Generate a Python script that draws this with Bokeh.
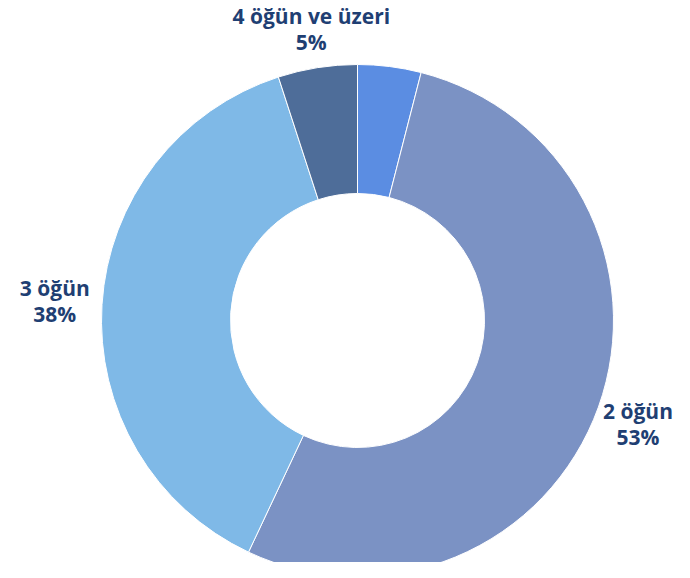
import math
from bokeh.plotting import figure
from bokeh.models import Range1d, ColumnDataSource
from bokeh.core.properties import value
from bokeh.embed import file_html
from bokeh.resources import INLINE

categories = ["1 öğün", "2 öğün", "3 öğün", "4 öğün ve üzeri"]
values = [4, 53, 38, 5]
show_label = [False, True, True, True]
colors = ["#5B8DE2", "#7B92C4", "#7FB9E7", "#4E6D99"]

W, H = 674, 562
p = figure(width=W, height=H, output_backend="svg", toolbar_location=None,
           x_range=Range1d(0, W), y_range=Range1d(-H, 0),
           min_border=0, outline_line_color=None)
p.axis.visible = False
p.grid.visible = False
p.background_fill_color = "white"
p.border_fill_color = "white"

cx, cy = 357, -320
r_out, r_in = 256, 127
char_w, half_h, gap = 11.5, 14, 12
total = sum(values)
starts, ends = [], []
lx, ly, name_txt, pct_txt = [], [], [], []
acc = 0.0
for c, v, s in zip(categories, values, show_label):
    a0 = math.pi / 2 - 2 * math.pi * acc / total
    acc += v
    a1 = math.pi / 2 - 2 * math.pi * acc / total
    starts.append(a0)
    ends.append(a1)
    if s:
        mid = (a0 + a1) / 2
        hw = len(c) * char_w / 2
        ext = abs(math.cos(mid)) * hw + abs(math.sin(mid)) * half_h
        rr = r_out + gap + ext
        x = cx + rr * math.cos(mid)
        x = min(max(x, hw + 2), W - hw - 2)
        lx.append(x)
        ly.append(cy + rr * math.sin(mid))
        name_txt.append(c)
        pct_txt.append(f"{v}%")

src = ColumnDataSource(dict(start=starts, end=ends, color=colors))
p.annular_wedge(x=cx, y=cy, inner_radius=r_in, outer_radius=r_out,
                start_angle="start", end_angle="end", direction="clock",
                fill_color="color", line_color="white", line_width=1, source=src)

common = dict(text_align="center", text_baseline="middle",
              text_font=value("Open Sans"), text_font_style="bold",
              text_font_size="21px", text_color="#1F3F73")
p.text(x=lx, y=ly, text=name_txt, y_offset=-13, **common)
p.text(x=lx, y=ly, text=pct_txt, y_offset=13, **common)

open("out.html", "w").write(file_html(p, INLINE))
